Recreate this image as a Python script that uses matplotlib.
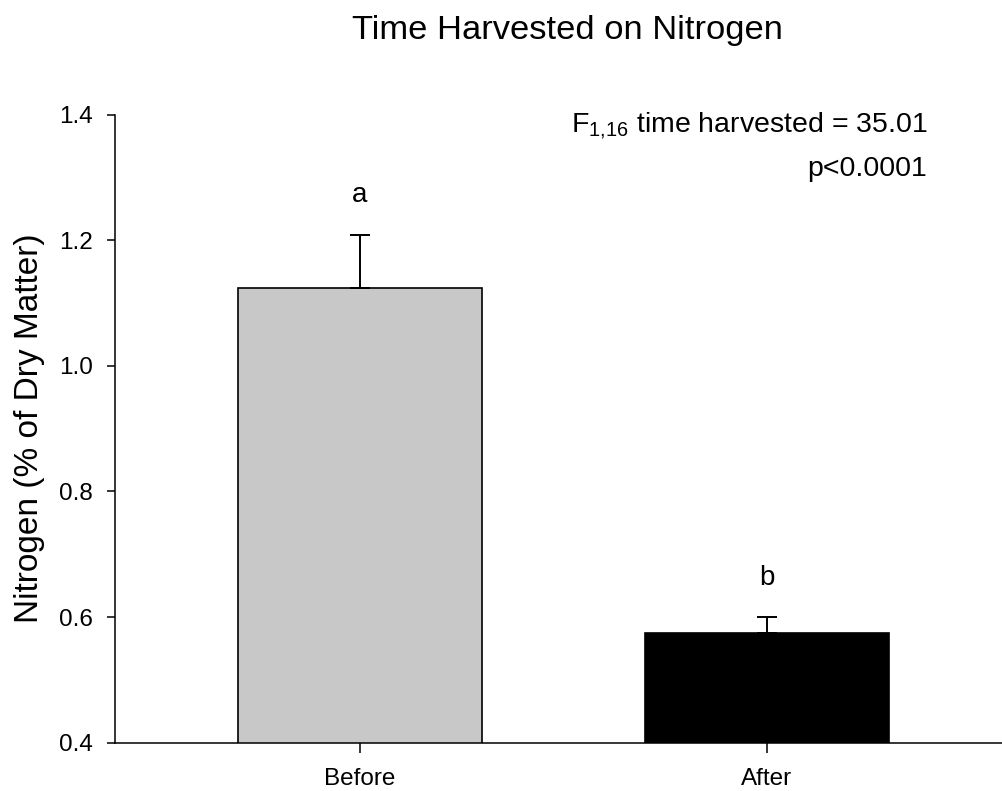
import matplotlib
matplotlib.use("Agg")
import matplotlib.pyplot as plt

# Nitrogen content before and after harvest (mean + SE)
groups = ["Before", "After"]
nitrogen_mean = [1.124, 0.575]
nitrogen_se = [0.085, 0.025]
bar_colors = ["#c8c8c8", "#000000"]
letters = ["a", "b"]
y_ticks = [0.4, 0.6, 0.8, 1.0, 1.2, 1.4]

plt.rcParams["font.family"] = ["Liberation Sans", "DejaVu Sans"]
plt.rcParams["mathtext.fontset"] = "custom"
plt.rcParams["mathtext.rm"] = "Liberation Sans"
plt.rcParams["mathtext.it"] = "Liberation Sans"

fig = plt.figure(figsize=(10.03, 7.91), dpi=100)
ax = fig.add_axes([0.1147, 0.0611, 0.8853, 0.7939])

x = list(range(len(groups)))
ax.bar(x, nitrogen_mean, width=0.6, bottom=0, color=bar_colors,
       edgecolor="black", linewidth=1.2, zorder=2)
ax.errorbar(x, nitrogen_mean,
            yerr=[[0] * len(x), nitrogen_se],
            fmt="none", ecolor="black", elinewidth=1.4,
            capsize=7.2, capthick=1.4, zorder=3)

# significance letters above each error bar
for xi, m, se, lab in zip(x, nitrogen_mean, nitrogen_se, letters):
    ax.text(xi, m + se + 0.063, lab, ha="center", va="center", fontsize=20)

ax.set_xlim(-0.602, 1.58)
ax.set_ylim(0.4, 1.4)
ax.set_xticks(x)
ax.set_xticklabels(groups)
ax.set_yticks(y_ticks)
ax.set_yticklabels([f"{t:.1f}" for t in y_ticks])

for side in ("top", "right"):
    ax.spines[side].set_visible(False)
for side in ("left", "bottom"):
    ax.spines[side].set_linewidth(1.1)
ax.tick_params(axis="y", direction="out", length=6, width=1.1, pad=10,
               labelsize=17.5)
ax.tick_params(axis="x", direction="out", length=7, width=1.1, pad=11,
               labelsize=17.5)

ax.set_ylabel("Nitrogen (% of Dry Matter)", fontsize=24, labelpad=10)

fig.text(0.5655, 1 - 39 / 791, "Time Harvested on Nitrogen",
         ha="center", va="baseline", fontsize=24.8)

fig.text(927 / 1003, 1 - 132 / 791,
         r"F$_{1{,}16}$ time harvested = 35.01",
         ha="right", va="baseline", fontsize=20.5)
fig.text(927 / 1003, 1 - 176 / 791, "p<0.0001",
         ha="right", va="baseline", fontsize=20.5)

fig.savefig("out.png", dpi=100, facecolor="white")
